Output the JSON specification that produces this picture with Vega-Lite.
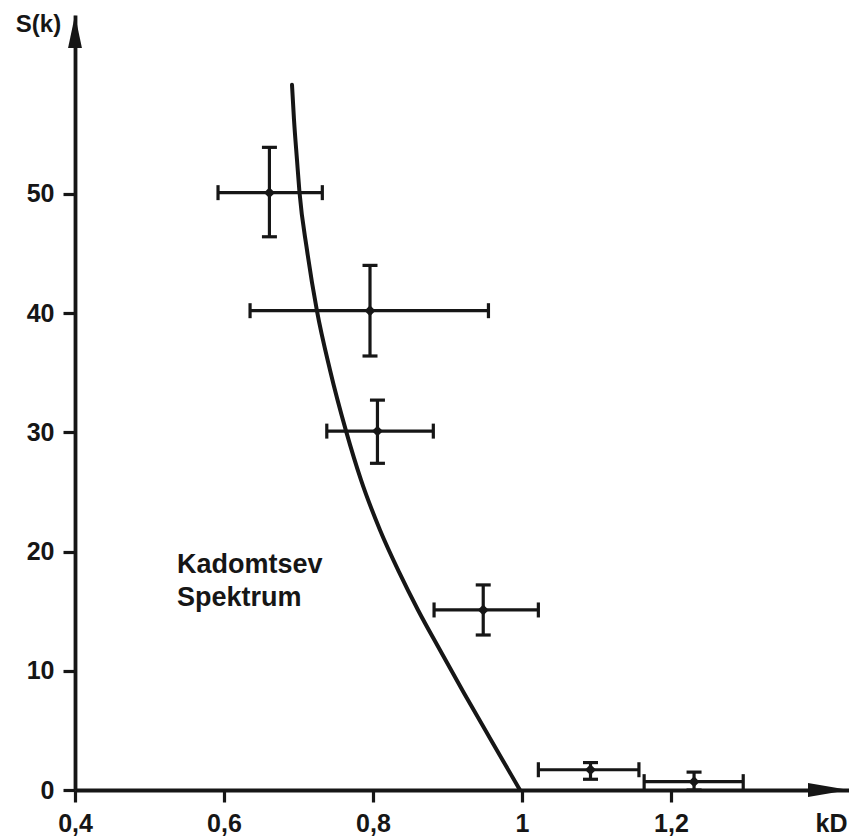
{
  "$schema": "https://vega.github.io/schema/vega-lite/v6.json",
  "width": 774,
  "height": 775,
  "autosize": {"type": "none"},
  "padding": {"left": 75, "top": 15, "right": 0, "bottom": 48},
  "background": "white",
  "config": {
    "view": {"stroke": null},
    "font": "Liberation Sans",
    "axis": {
      "grid": false,
      "labelFlush": false,
      "labelOverlap": false,
      "domainColor": "#161616",
      "domainWidth": 3.8,
      "tickColor": "#161616",
      "tickWidth": 3.2,
      "tickSize": 12,
      "labelFont": "Liberation Sans",
      "labelFontWeight": "bold",
      "labelFontSize": 25,
      "labelColor": "#161616",
      "titleFont": "Liberation Sans",
      "titleFontWeight": "bold",
      "titleFontSize": 25,
      "titleColor": "#161616"
    }
  },
  "datasets": {
    "curve": [
      {"k": 0.6913, "s": 59.14},
      {"k": 0.694, "s": 56.21},
      {"k": 0.698, "s": 52.85},
      {"k": 0.7013, "s": 50.17},
      {"k": 0.7114, "s": 45.3},
      {"k": 0.7248, "s": 40.18},
      {"k": 0.7423, "s": 35.23},
      {"k": 0.7638, "s": 30.12},
      {"k": 0.7839, "s": 26.01},
      {"k": 0.8094, "s": 21.81},
      {"k": 0.8349, "s": 18.29},
      {"k": 0.8604, "s": 15.1},
      {"k": 0.8899, "s": 11.74},
      {"k": 0.9221, "s": 8.14},
      {"k": 0.9584, "s": 4.19},
      {"k": 0.9973, "s": 0.0}
    ],
    "messung": [
      {"k": 0.661, "s": 50.1, "klo": 0.592, "khi": 0.732, "slo": 46.4, "shi": 53.9},
      {"k": 0.796, "s": 40.2, "klo": 0.635, "khi": 0.955, "slo": 36.4, "shi": 44.0},
      {"k": 0.806, "s": 30.1, "klo": 0.738, "khi": 0.881, "slo": 27.4, "shi": 32.7},
      {"k": 0.948, "s": 15.1, "klo": 0.882, "khi": 1.022, "slo": 13.0, "shi": 17.2},
      {"k": 1.092, "s": 1.7, "klo": 1.022, "khi": 1.157, "slo": 0.9, "shi": 2.3},
      {"k": 1.231, "s": 0.7, "klo": 1.164, "khi": 1.297, "slo": 0.0, "shi": 1.5}
    ]
  },
  "layer": [
    {
      "data": {"name": "curve"},
      "mark": {"type": "line", "color": "#161616", "strokeWidth": 4, "interpolate": "monotone", "strokeCap": "round", "clip": true},
      "encoding": {
        "x": {
          "field": "k", "type": "quantitative",
          "scale": {"domain": [0.4, 1.439], "nice": false, "zero": false},
          "axis": {
            "values": [0.4, 0.6, 0.8, 1, 1.2],
            "labelExpr": "replace(format(datum.value, '.1~f'), '.', ',')",
            "labelPadding": 9,
            "title": "kD",
            "titleX": 756,
            "titleY": 33,
            "titleAlign": "center",
            "titleBaseline": "middle"
          }
        },
        "y": {
          "field": "s", "type": "quantitative",
          "scale": {"domain": [0, 65], "nice": false, "zero": false},
          "axis": {
            "values": [0, 10, 20, 30, 40, 50],
            "labelPadding": 9,
            "title": "S(k)",
            "titleAngle": 0,
            "titleX": -37,
            "titleY": 9,
            "titleAlign": "center",
            "titleBaseline": "middle",
            "titleFontSize": 24
          }
        }
      }
    },
    {
      "data": {"name": "messung"},
      "mark": {"type": "rule", "color": "#161616", "strokeWidth": 3.2},
      "encoding": {
        "x": {"field": "klo", "type": "quantitative", "title": "kD"},
        "x2": {"field": "khi"},
        "y": {"field": "s", "type": "quantitative", "title": "S(k)"}
      }
    },
    {
      "data": {"name": "messung"},
      "mark": {"type": "rule", "color": "#161616", "strokeWidth": 3.2},
      "encoding": {
        "x": {"field": "k", "type": "quantitative", "title": "kD"},
        "y": {"field": "slo", "type": "quantitative", "title": "S(k)"},
        "y2": {"field": "shi"}
      }
    },
    {
      "data": {"name": "messung"},
      "mark": {"type": "tick", "orient": "vertical", "color": "#161616", "size": 15, "thickness": 3.2, "opacity": 1},
      "encoding": {
        "x": {"field": "klo", "type": "quantitative", "title": "kD"},
        "y": {"field": "s", "type": "quantitative", "title": "S(k)"}
      }
    },
    {
      "data": {"name": "messung"},
      "mark": {"type": "tick", "orient": "vertical", "color": "#161616", "size": 15, "thickness": 3.2, "opacity": 1},
      "encoding": {
        "x": {"field": "khi", "type": "quantitative", "title": "kD"},
        "y": {"field": "s", "type": "quantitative", "title": "S(k)"}
      }
    },
    {
      "data": {"name": "messung"},
      "mark": {"type": "tick", "orient": "horizontal", "color": "#161616", "size": 15, "thickness": 3.2, "opacity": 1},
      "encoding": {
        "x": {"field": "k", "type": "quantitative", "title": "kD"},
        "y": {"field": "slo", "type": "quantitative", "title": "S(k)"}
      }
    },
    {
      "data": {"name": "messung"},
      "mark": {"type": "tick", "orient": "horizontal", "color": "#161616", "size": 15, "thickness": 3.2, "opacity": 1},
      "encoding": {
        "x": {"field": "k", "type": "quantitative", "title": "kD"},
        "y": {"field": "shi", "type": "quantitative", "title": "S(k)"}
      }
    },
    {
      "data": {"name": "messung"},
      "mark": {"type": "point", "shape": "diamond", "filled": true, "color": "#161616", "size": 120, "opacity": 1},
      "encoding": {
        "x": {"field": "k", "type": "quantitative", "title": "kD"},
        "y": {"field": "s", "type": "quantitative", "title": "S(k)"}
      }
    },
    {
      "data": {"values": [{"k": 0.537, "s": 18.23, "label": ["Kadomtsev", "Spektrum"]}]},
      "mark": {"type": "text", "align": "left", "baseline": "alphabetic", "font": "Liberation Sans", "fontWeight": "bold", "fontSize": 27, "lineHeight": 33, "color": "#161616"},
      "encoding": {
        "x": {"field": "k", "type": "quantitative", "title": "kD"},
        "y": {"field": "s", "type": "quantitative", "title": "S(k)"},
        "text": {"field": "label"}
      }
    },
    {
      "data": {"values": [{}]},
      "mark": {"type": "point", "shape": "M0,0 L0.21,1 L-0.21,1 Z", "filled": true, "color": "#161616", "size": 4356, "opacity": 1, "clip": false},
      "encoding": {
        "x": {"datum": 0.4, "type": "quantitative", "title": "kD"},
        "y": {"datum": 65, "type": "quantitative", "title": "S(k)"}
      }
    },
    {
      "data": {"values": [{}]},
      "mark": {"type": "point", "shape": "M0,0 L-1,-0.17 L-1,0.17 Z", "filled": true, "color": "#161616", "size": 6724, "opacity": 1, "clip": false},
      "encoding": {
        "x": {"datum": 1.439, "type": "quantitative", "title": "kD"},
        "y": {"datum": 0, "type": "quantitative", "title": "S(k)"}
      }
    }
  ]
}
